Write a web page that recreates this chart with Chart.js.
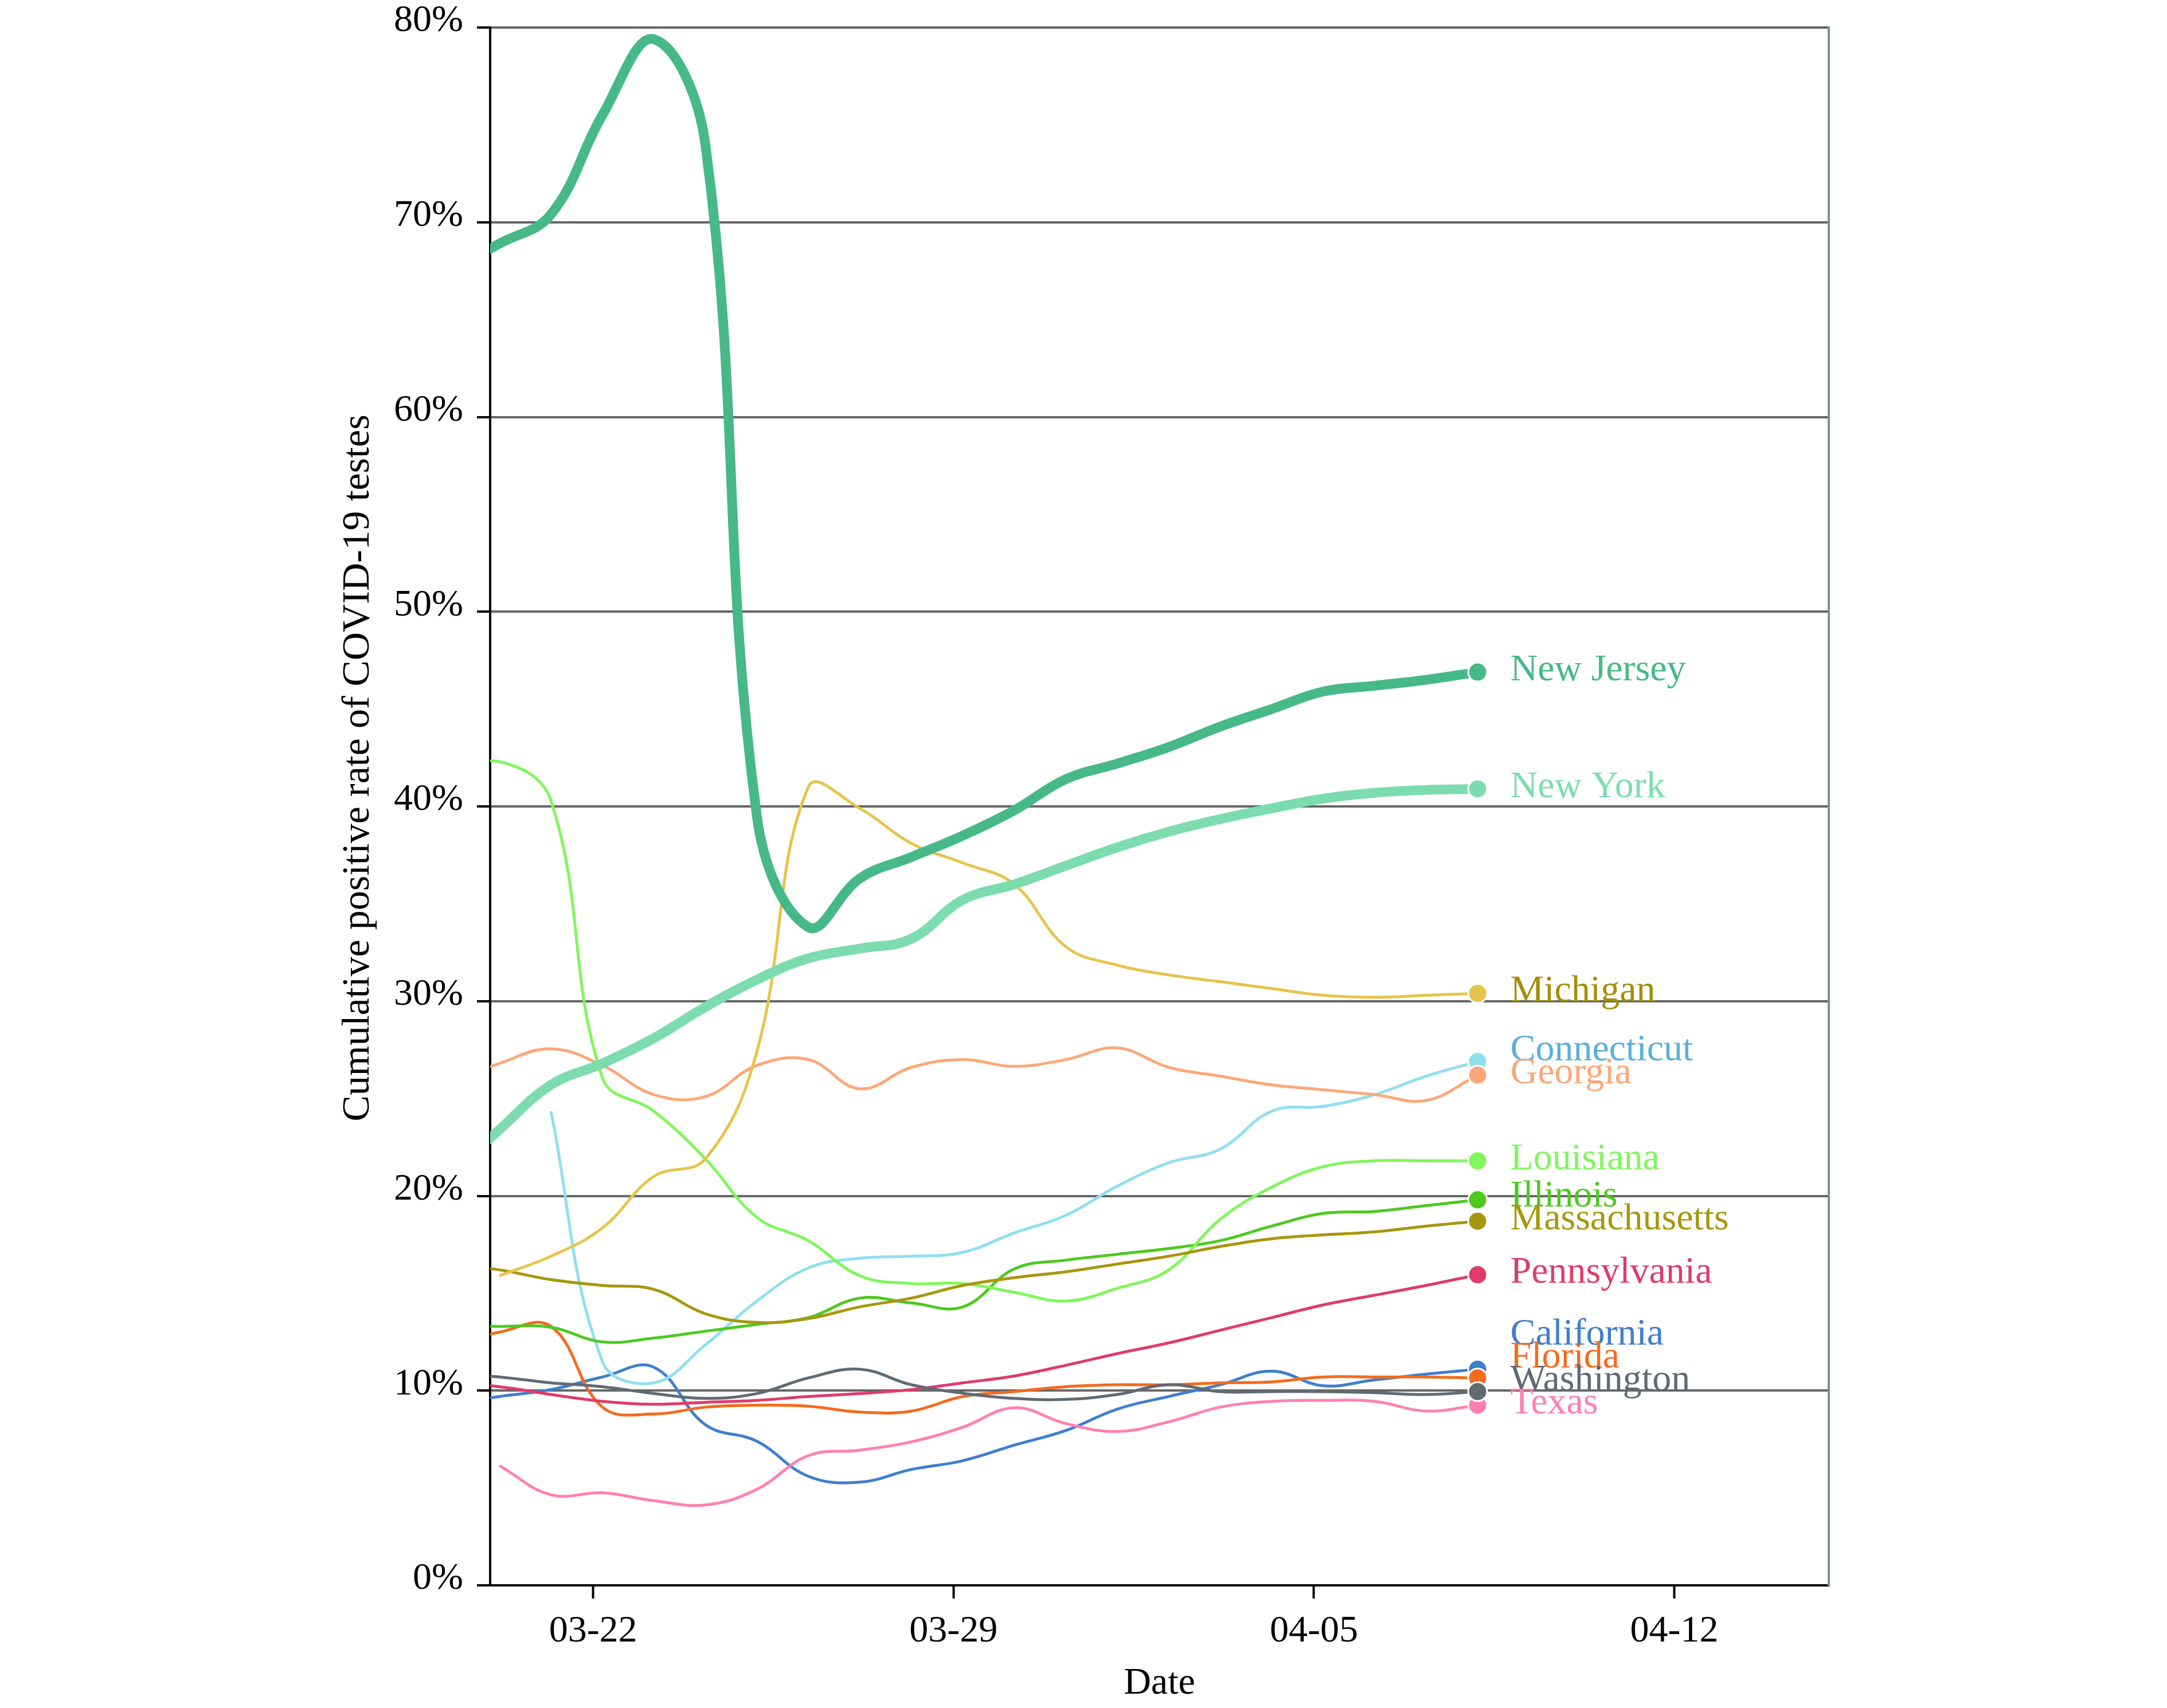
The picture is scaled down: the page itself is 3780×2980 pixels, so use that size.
<!DOCTYPE html>
<html>
<head>
<meta charset="utf-8">
<title>Cumulative positive rate of COVID-19 testes</title>
<script src="https://cdn.jsdelivr.net/npm/chart.js@4.4.1/dist/chart.umd.min.js"></script>
<style>
  html, body { margin: 0; padding: 0; background: #fff; }
  #wrap { width: 3780px; height: 2980px; }
</style>
</head>
<body>
<div id="wrap"><canvas id="container" width="3780" height="2980"></canvas></div>
<script>
"use strict";

// daily readings, 03-19 only shows as the clipped lead-in at the left edge
const dates = ['03-19', '03-20', '03-21', '03-22', '03-23', '03-24', '03-25', '03-26', '03-27', '03-28',
    '03-29', '03-30', '03-31', '04-01', '04-02', '04-03', '04-04', '04-05', '04-06', '04-07', '04-08'];
const tickLabels = ['03-22', '03-29', '04-05', '04-12'];
const axisStart = '03-20', axisEnd = '04-15';

const states = ['California', 'Connecticut', 'Florida', 'Georgia', 'Illinois', 'Louisiana', 'Massachusetts',
    'Michigan', 'New Jersey', 'New York', 'Pennsylvania', 'Texas', 'Washington'];

// positive rate in %
const california    = [9.3, 9.7, 10.05, 10.7, 11.2, 8.25, 7.4, 5.6, 5.3, 5.95, 6.4, 7.2, 7.95, 9.05, 9.7, 10.3, 11.0, 10.25, 10.55, 10.85, 11.1];
const connecticut   = [null, null, 24.35, 11.5, 10.4, 12.35, 14.6, 16.3, 16.8, 16.9, 17.1, 18.1, 19.0, 20.5, 21.7, 22.4, 24.35, 24.6, 25.2, 26.15, 26.9];
const florida       = [12.3, 13.0, 13.3, 9.15, 8.8, 9.15, 9.25, 9.2, 8.9, 8.95, 9.7, 9.95, 10.2, 10.3, 10.3, 10.4, 10.45, 10.7, 10.7, 10.7, 10.65];
const georgia       = [25.8, 26.8, 27.55, 26.7, 25.2, 25.1, 26.7, 27.0, 25.5, 26.6, 27.0, 26.65, 27.0, 27.6, 26.6, 26.15, 25.7, 25.45, 25.2, 24.9, 26.2];
const illinois      = [13.3, 13.3, 13.25, 12.5, 12.7, 13.05, 13.4, 13.75, 14.75, 14.5, 14.3, 16.25, 16.7, 17.0, 17.3, 17.7, 18.45, 19.1, 19.2, 19.5, 19.8];
const louisiana     = [41.5, 42.3, 40.3, 26.05, 24.35, 21.9, 18.9, 17.7, 15.9, 15.5, 15.5, 15.05, 14.6, 15.25, 16.2, 18.8, 20.45, 21.5, 21.8, 21.8, 21.8];
const massachusetts = [16.5, 16.2, 15.7, 15.4, 15.2, 13.95, 13.5, 13.7, 14.3, 14.75, 15.4, 15.8, 16.1, 16.5, 16.9, 17.4, 17.8, 18.0, 18.15, 18.45, 18.7];
const michigan      = [null, 15.9, 16.9, 18.35, 21.0, 21.9, 27.4, 41.0, 39.9, 38.1, 37.1, 36.0, 32.8, 31.85, 31.35, 31.0, 30.65, 30.3, 30.2, 30.3, 30.4];
const newJersey     = [67.5, 68.9, 70.4, 75.5, 79.4, 74.0, 39.5, 33.8, 36.3, 37.4, 38.5, 39.8, 41.4, 42.2, 43.05, 44.1, 45.0, 45.9, 46.2, 46.5, 46.9];
const newYork       = [21.0, 23.4, 25.7, 26.8, 28.1, 29.7, 31.1, 32.2, 32.7, 33.2, 35.2, 36.0, 36.95, 37.9, 38.7, 39.35, 39.9, 40.4, 40.7, 40.85, 40.9];
const pennsylvania  = [10.4, 10.2, 9.8, 9.45, 9.3, 9.4, 9.5, 9.7, 9.85, 10.05, 10.4, 10.75, 11.3, 11.9, 12.45, 13.1, 13.75, 14.4, 14.9, 15.4, 15.95];
const texas         = [null, 6.15, 4.65, 4.75, 4.35, 4.13, 4.93, 6.66, 6.94, 7.37, 8.12, 9.12, 8.31, 7.9, 8.4, 9.15, 9.45, 9.5, 9.45, 8.95, 9.25];
const washington    = [10.9, 10.7, 10.4, 10.2, 9.85, 9.6, 9.85, 10.65, 11.1, 10.3, 9.87, 9.6, 9.55, 9.8, 10.3, 9.95, 9.95, 9.95, 9.9, 9.8, 9.95];

const seriesValues = [california, connecticut, florida, georgia, illinois, louisiana, massachusetts,
    michigan, newJersey, newYork, pennsylvania, texas, washington];

const lineColors  = ['#3f7fcc', '#8fdff0', '#f46b1c', '#fca878', '#4dc91f', '#7ff75a', '#a7970e',
    '#e6c44b', '#46b987', '#7cdcad', '#df3b6a', '#ff80b1', '#5f6a73'];
const labelColors = ['#3f7fcc', '#5aafdc', '#f46b1c', '#fca878', '#4dc91f', '#7ff75a', '#a7970e',
    '#a38e06', '#46b987', '#7cdcad', '#df3b6a', '#ff80b1', '#5f6a73'];
const thickLines = ['New Jersey', 'New York'];

const yTitle = 'Cumulative positive rate of COVID-19 testes';
const xTitle = 'Date';

const FONT = '"Liberation Serif", "Times New Roman", serif';
const stampShift = 0.18; // readings are stamped a few hours past midnight

function dayNum(md) {
    var p = md.split('-');
    var m = parseInt(p[0], 10), d = parseInt(p[1], 10);
    return (m === 4 ? 31 : 0) + d - 1;
}

// labels at the line ends; a crowded label is pushed up above the one below it
const endLabels = {
    id: 'endLabels',
    afterDatasetsDraw(chart) {
        const ctx = chart.ctx;
        const items = [];
        chart.data.datasets.forEach((ds, i) => {
            const meta = chart.getDatasetMeta(i);
            const pt = meta.data[meta.data.length - 1];
            items.push({ name: ds.label, x: pt.x, y: pt.y, ty: pt.y, color: labelColors[i] });
        });
        items.sort((a, b) => a.y - b.y);
        const minGap = 40;
        for (var i = items.length - 2; i >= 0; i--) {
            if (items[i + 1].ty - items[i].ty < minGap) items[i].ty = items[i + 1].ty - minGap;
        }
        ctx.save();
        ctx.font = '66px ' + FONT;
        ctx.textAlign = 'left';
        ctx.textBaseline = 'middle';
        items.forEach(it => {
            ctx.fillStyle = it.color;
            ctx.fillText(it.name, it.x + 57, it.ty - 3);
        });
        ctx.restore();
    }
};

const axisTitles = {
    id: 'axisTitles',
    afterDraw(chart) {
        const ctx = chart.ctx, area = chart.chartArea;
        ctx.save();
        ctx.fillStyle = '#000';
        ctx.textAlign = 'center';
        ctx.textBaseline = 'alphabetic';
        ctx.font = '66px ' + FONT;
        ctx.fillText(xTitle, (area.left + area.right) / 2, area.bottom + 189);
        ctx.font = '68px ' + FONT;
        ctx.translate(area.left - 212, (area.top + area.bottom) / 2 - 67);
        ctx.rotate(-Math.PI / 2);
        ctx.fillText(yTitle, 0, 0);
        ctx.restore();
    }
};

function noPadding(s) {
    s.paddingTop = 0;
    s.paddingBottom = 0;
    s.paddingLeft = 0;
    s.paddingRight = 0;
}

const datasets = states.map((name, i) => ({
    label: name,
    data: dates.map((d, k) => ({ x: dayNum(d) + stampShift, y: seriesValues[i][k] }))
        .filter(p => p.y !== null),
    borderColor: lineColors[i],
    backgroundColor: lineColors[i],
    borderWidth: thickLines.includes(name) ? 17 : 5,
    borderJoinStyle: 'round',
    tension: 0.4,
    fill: false,
    clip: 0,
    order: -i,
    pointRadius: c => c.dataIndex === c.dataset.data.length - 1 ? 16.5 : 0,
    pointHoverRadius: 0,
    pointBackgroundColor: lineColors[i],
    pointBorderColor: '#fff',
    pointBorderWidth: 3
}));

var ctx = document.getElementById('container').getContext('2d');
var dataChart = new Chart(ctx, {
    type: 'line',
    data: { datasets: datasets },
    options: {
        responsive: false,
        animation: false,
        layout: { padding: { top: 48, right: 590, bottom: 0, left: 0 } },
        plugins: {
            legend: { display: false },
            tooltip: { enabled: false }
        },
        scales: {
            x: {
                type: 'linear',
                min: dayNum(axisStart),
                max: dayNum(axisEnd),
                afterBuildTicks: s => { s.ticks = tickLabels.map(l => ({ value: dayNum(l) })); },
                afterFit: s => { s.height = 214; noPadding(s); },
                ticks: {
                    callback: (v, i) => tickLabels[i],
                    autoSkip: false,
                    maxRotation: 0,
                    padding: 18,
                    color: '#000',
                    font: { family: FONT, size: 66 }
                },
                grid: { drawOnChartArea: false, drawTicks: true, tickLength: 23, tickColor: '#000', tickWidth: 4 },
                border: { color: '#000', width: 4 }
            },
            y: {
                min: 0,
                max: 80,
                afterFit: s => { s.width = 855; noPadding(s); },
                ticks: {
                    stepSize: 10,
                    callback: v => v + '%',
                    padding: 24,
                    labelOffset: -11,
                    color: '#000',
                    font: { family: FONT, size: 66 }
                },
                grid: {
                    color: c => (c.tick && c.tick.value === 0) ? '#000' : '#666',
                    lineWidth: 4,
                    tickLength: 23,
                    tickColor: '#000',
                    tickWidth: 4
                },
                border: { color: '#000', width: 4 }
            },
            y2: {
                position: 'right',
                display: true,
                afterFit: s => { s.width = 0; noPadding(s); },
                ticks: { display: false },
                grid: { display: false, drawTicks: false },
                border: { display: true, color: '#7d8f99', width: 4 }
            }
        }
    },
    plugins: [endLabels, axisTitles]
});
</script>
</body>
</html>
